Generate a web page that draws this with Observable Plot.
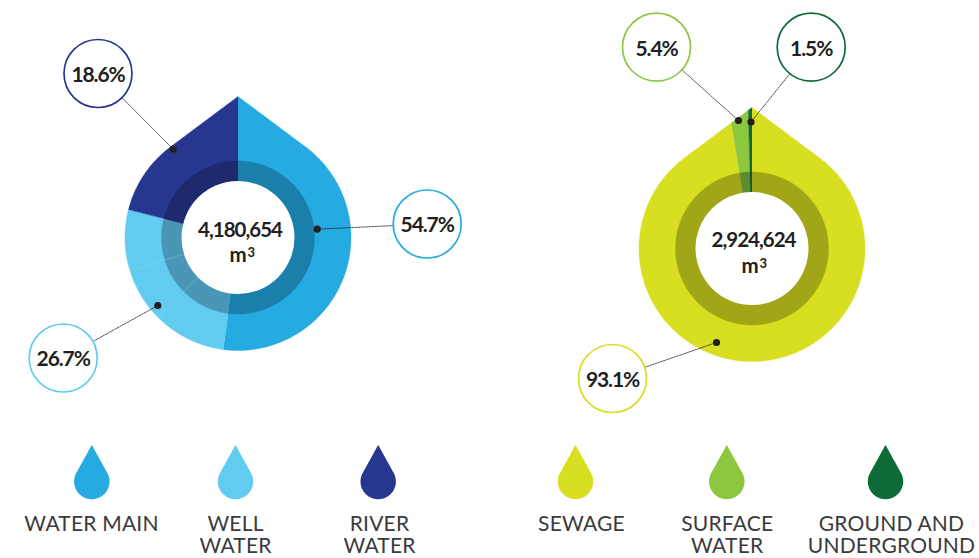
<!DOCTYPE html>
<html><head><meta charset="utf-8">
<script src="https://cdn.jsdelivr.net/npm/d3@7"></script>
<script src="https://cdn.jsdelivr.net/npm/@observablehq/plot@0.6"></script>
<style>
html,body{margin:0;padding:0;background:#fff;overflow:hidden}
svg{display:block}
svg g[aria-description="value"] text{letter-spacing:-1.1px}
svg g[aria-description="total"] text{letter-spacing:-1px}
svg g[aria-description="legend"] text{letter-spacing:.2px}
</style></head><body>
<div id="chart"></div>
<script>
// ---- data ----
const supplyNames = ["WATER MAIN", "WELL\nWATER", "RIVER\nWATER"];
const supplyLabels = ["54.7%", "26.7%", "18.6%"];
const supplySweep = [187.5, 96.8, 75.7];       // sector sweep as drawn, degrees
const supplyTotal = "4,180,654";
const dischargeNames = ["SEWAGE", "SURFACE\nWATER", "GROUND AND\nUNDERGROUND"];
const dischargeLabels = ["93.1%", "5.4%", "1.5%"];
const dischargeSweep = [350.7, 7.8, 1.5];      // sector sweep as drawn, degrees
const dischargeTotal = "2,924,624";
const unitBase = "m";
const unitPower = "3";

// ---- styles and layout ----
const supplyColors = ["#25aae1", "#62cbf0", "#27378f"];
const supplyRing = ["#1b7fab", "#4a96b6", "#1e296e"];
const dischargeColors = ["#d8df21", "#8dc63f", "#0e6b39"];
const dischargeRing = ["#a0a617", "#5f8c2e", "#0e5a30"];
const ink = "#231f20", legendInk = "#3a3a3c", font = "Lato";
const R = 113, TIP = 141, RING = 76.5, HOLE = 56.5;
const supplyC = {x: 237.5, y: 237}, dischargeC = {x: 751.5, y: 248};

const rad = d => d * Math.PI / 180;
function dropRadius(theta, r, d) {
  const phi = Math.acos(r / d);
  const t = Math.min(theta, 360 - theta);
  return rad(t) < phi ? r / Math.cos(phi - rad(t)) : r;
}
// sector of a drop, from a0 to a1 degrees clockwise from the tip; fn(theta) gives the radius
function sector(c, a0, a1, fn, id) {
  const pts = [{x: c.x, y: c.y, id}];
  const n = Math.max(2, Math.ceil((a1 - a0) / 0.5));
  for (let i = 0; i <= n; i++) {
    const th = a0 + (a1 - a0) * i / n, r = fn(th);
    pts.push({x: c.x + r * Math.sin(rad(th)), y: c.y - r * Math.cos(rad(th)), id});
  }
  return pts;
}
function sectors(c, sweep, colors, fn, prefix) {
  let a = 0;
  return sweep.map((s, i) => {
    const pts = sector(c, a, a + s, fn, prefix + i);
    a += s;
    return Plot.line(pts, {x: "x", y: "y", fill: colors[i], stroke: colors[i], strokeWidth: 0.4, curve: "linear"});
  });
}
const outer = th => dropRadius(th, R, TIP);
const ring = () => RING;

// seams inside the well-water sector
const seams = [253, 225].map(a => [
  {x: supplyC.x + HOLE * Math.sin(rad(a)), y: supplyC.y - HOLE * Math.cos(rad(a)), a},
  {x: supplyC.x + R * Math.sin(rad(a)), y: supplyC.y - R * Math.cos(rad(a)), a}
]).flat();

// callouts: bubble centre and the dot the leader runs to
const callouts = [
  {label: supplyLabels[0], color: supplyColors[0], cx: 426.7, cy: 223.5, dx: 316.7, dy: 228.7},
  {label: supplyLabels[1], color: supplyColors[1], cx: 62.7, cy: 357.5, dx: 157.3, dy: 305},
  {label: supplyLabels[2], color: supplyColors[2], cx: 97.5, cy: 73, dx: 172.7, dy: 148.7},
  {label: dischargeLabels[0], color: dischargeColors[0], cx: 612, cy: 378, dx: 716, dy: 342},
  {label: dischargeLabels[1], color: dischargeColors[1], cx: 656, cy: 46.7, dx: 738, dy: 120},
  {label: dischargeLabels[2], color: dischargeColors[2], cx: 810.7, cy: 46.7, dx: 750.5, dy: 121.5}
];
const BUBBLE = 34;
const leaders = callouts.flatMap((c, i) => {
  const L = Math.hypot(c.dx - c.cx, c.dy - c.cy);
  return [{i, x: c.cx + (c.dx - c.cx) * BUBBLE / L, y: c.cy + (c.dy - c.cy) * BUBBLE / L}, {i, x: c.dx, y: c.dy}];
});

// legend: small drops and their names
const legendItems = [
  {name: supplyNames[0], color: supplyColors[0], x: 91.3, tx: 91},
  {name: supplyNames[1], color: supplyColors[1], x: 235, tx: 235},
  {name: supplyNames[2], color: supplyColors[2], x: 377.7, tx: 379},
  {name: dischargeNames[0], color: dischargeColors[0], x: 575, tx: 581},
  {name: dischargeNames[1], color: dischargeColors[1], x: 726.3, tx: 726.7},
  {name: dischargeNames[2], color: dischargeColors[2], x: 885, tx: 891}
];
const legendDrops = legendItems.map(it => Plot.line(
  sector({x: it.x, y: 481}, 0, 360, th => dropRadius(th, 17.7, 36.6), it.name),
  {x: "x", y: "y", fill: it.color, stroke: "none", curve: "linear"}));

const plot = Plot.plot({
  width: 979, height: 558, margin: 0,
  x: {domain: [0, 979], range: [0, 979], axis: null},
  y: {domain: [0, 558], range: [0, 558], axis: null},
  style: {background: "#fff", fontFamily: font},
  marks: [
    ...sectors(supplyC, supplySweep, supplyColors, outer, "s"),
    ...sectors(supplyC, supplySweep, supplyRing, ring, "r"),
    Plot.line(seams, {x: "x", y: "y", z: "a", stroke: "#9fdcf3", strokeWidth: 0.5, strokeOpacity: 0.7}),
    ...sectors(dischargeC, dischargeSweep, dischargeColors, outer, "d"),
    ...sectors(dischargeC, dischargeSweep, dischargeRing, ring, "q"),
    Plot.dot([supplyC, dischargeC], {x: "x", y: "y", r: HOLE, fill: "#fff", stroke: "none"}),
    Plot.line(leaders, {x: "x", y: "y", z: "i", stroke: ink, strokeWidth: 0.8, strokeDasharray: "1.6 1.2"}),
    Plot.dot(callouts, {x: "dx", y: "dy", r: 3.6, fill: ink, stroke: "none"}),
    Plot.dot(callouts, {x: "cx", y: "cy", r: BUBBLE, fill: "#fff", stroke: "color", strokeWidth: 1.7}),
    Plot.text(callouts, {x: "cx", y: d => d.cy + 1.6, text: "label", fill: ink, fontSize: 21, fontWeight: 700, fontFamily: font, ariaDescription: "value"}),
    Plot.text([
      {t: supplyTotal, x: 239.5, y: 230}, {t: dischargeTotal, x: 753, y: 240}
    ], {x: "x", y: "y", text: "t", fill: ink, fontSize: 20.5, fontWeight: 700, fontFamily: font, ariaDescription: "total"}),
    Plot.text([
      {t: unitBase, x: 237.5, y: 255}, {t: unitBase, x: 749.5, y: 266}
    ], {x: "x", y: "y", text: "t", fill: ink, fontSize: 20.5, fontWeight: 700, fontFamily: font}),
    Plot.text([
      {t: unitPower, x: 247, y: 252}, {t: unitPower, x: 759, y: 263}
    ], {x: "x", y: "y", text: "t", textAnchor: "start", fill: ink, fontSize: 13, fontWeight: 700, fontFamily: font}),
    ...legendDrops,
    Plot.text(legendItems, {x: "tx", y: 514, text: "name", lineAnchor: "top", lineHeight: 1.08, fill: legendInk, fontSize: 21, fontWeight: 400, fontFamily: font, ariaDescription: "legend"})
  ]
});
document.getElementById("chart").append(plot);
</script>
</body></html>
